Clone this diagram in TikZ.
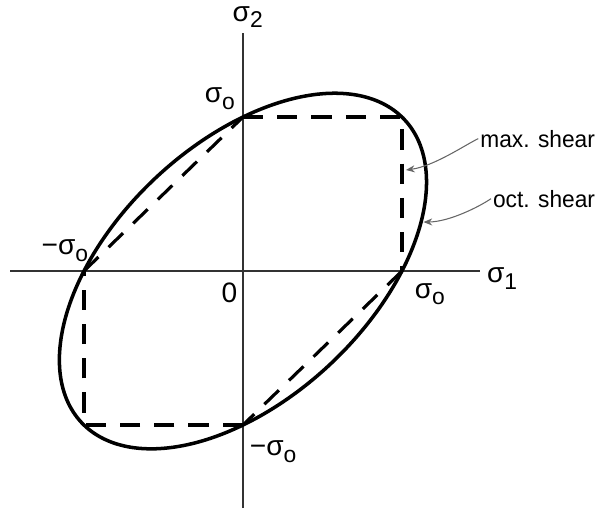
\documentclass[tikz,border=0pt]{standalone}
\usepackage{fontspec}
\setmainfont{Liberation Sans}
\usetikzlibrary{arrows.meta, positioning, calc}
\newcommand{\sgsub}[1]{σ\raisebox{-0.45ex}{\fontsize{13}{14}\selectfont #1}}

\begin{document}
\begin{tikzpicture}[x=3.18cm, y=3.08cm,
  axis/.style={line width=0.85pt, black!80},
  yield/.style={line width=2pt},
  tresca/.style={line width=1.8pt, dash pattern=on 11.5pt off 8pt},
  lbl/.style={font=\fontsize{16}{18}\selectfont, inner sep=1pt},
  txt/.style={font=\fontsize{13.4}{15}\selectfont, inner sep=1pt, anchor=west},
  pointer/.style={gray!80!black, line width=0.6pt, -{Stealth[length=5pt, width=4pt]}}
]
\useasboundingbox (-1.528,-1.558) rectangle (2.233,1.760);
% axes
\coordinate (o) at (0,0);
\coordinate (xl) at (-1.465,0);
\coordinate (xr) at (1.49,0);
\coordinate (yb) at (0,-1.54);
\coordinate (yt) at (0,1.545);
\draw[axis] (xl) -- (xr);
\draw[axis] (yb) -- (yt);
\node[lbl] (s1) at (1.63,-0.05) {\sgsub{1}};
\node[lbl] (s2) at (0.03,1.65) {\sgsub{2}};
\node[lbl] (zero) at (-0.085,-0.14) {0};
% yield points
\coordinate (px) at (1,0);
\coordinate (py) at (0,1);
\coordinate (nx) at (-1,0);
\coordinate (ny) at (0,-1);
\coordinate (pp) at (1,1);
\coordinate (nn) at (-1,-1);
\node[lbl] (lpy) at (-0.145,1.12) {\sgsub{o}};
\node[lbl] (lpx) at (1.175,-0.15) {\sgsub{o}};
\node[lbl] (lnx) at (-1.12,0.13) {−\sgsub{o}};
\node[lbl] (lny) at (0.19,-1.175) {−\sgsub{o}};
% max. shear (Tresca)
\draw[tresca] (py) -- (pp) -- (px);
\draw[tresca] (px) -- (ny);
\draw[tresca] (ny) -- (nn) -- (nx);
\draw[tresca] (nx) -- (py);
% oct. shear (von Mises)
\draw[yield] plot[domain=0:360, samples=120, smooth cycle]
  ({cos(\x)-sin(\x)/sqrt(3)}, {cos(\x)+sin(\x)/sqrt(3)});
% labels with pointers
\node[txt] (tmax) at (1.48,0.86) {\scalebox{0.965}[1]{max. shear}};
\node[txt] (toct) at (1.56,0.47) {\scalebox{0.965}[1]{oct. shear}};
\coordinate (hmax) at (1.025,0.656);
\coordinate (hoct) at (1.135,0.318);
\draw[pointer] (tmax.west) .. controls (1.40,0.82) and (1.20,0.68) .. (hmax);
\draw[pointer] (toct.west) .. controls (1.49,0.42) and (1.30,0.32) .. (hoct);
\end{tikzpicture}
\end{document}
